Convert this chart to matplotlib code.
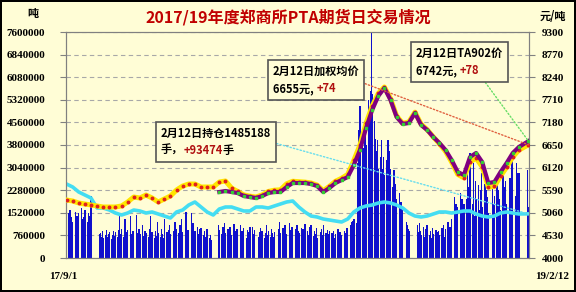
import numpy as np
import pandas as pd
import matplotlib
matplotlib.use("Agg")
import matplotlib.pyplot as plt
import matplotlib.dates as mdates
from matplotlib.ticker import FormatStrFormatter
from matplotlib.offsetbox import TextArea, HPacker, VPacker, AnnotationBbox
from matplotlib.transforms import ScaledTranslation

plt.rcParams['font.family'] = ['Noto Sans CJK SC', 'DejaVu Sans']

# ---- data -------------------------------------------------------------
# exchange holidays (weekdays without trading)
holidays = ['2017-10-02', '2017-10-03', '2017-10-04', '2017-10-05', '2017-10-06',
            '2018-01-01', '2018-02-15', '2018-02-16', '2018-02-19', '2018-02-20',
            '2018-02-21', '2018-04-05', '2018-04-06', '2018-04-30', '2018-05-01',
            '2018-06-18', '2018-09-24', '2018-10-01', '2018-10-02', '2018-10-03',
            '2018-10-04', '2018-10-05', '2018-12-31', '2019-01-01', '2019-02-04',
            '2019-02-05', '2019-02-06', '2019-02-07', '2019-02-08']

# daily volume, 10k lots, month by month
vol_2017_09 = [178, 150, 161, 139, 94, 120, 156, 110, 140, 95, 150, 168, 130, 88, 139, 160, 120, 150, 94, 140, 210]
vol_2017_10 = [80, 84, 72, 90, 67, 76, 94, 70, 82, 88, 65, 79, 92, 74, 86, 70, 95]
vol_2017_11 = [145, 80, 98, 70, 130, 88, 75, 94, 140, 82, 66, 90, 76, 145, 85, 70, 96, 80, 110, 74, 88, 92]
vol_2017_12 = [84, 70, 96, 140, 78, 88, 66, 92, 75, 120, 84, 70, 98, 80, 66, 130, 86, 74, 94, 110, 82]
vol_2018_01 = [90, 120, 78, 96, 84, 110, 72, 130, 88, 100, 156, 82, 94, 70, 150, 86, 118, 76, 92, 104, 80, 98]
vol_2018_02 = [88, 100, 76, 92, 70, 84, 96, 66, 78, 60, 110, 94, 80, 105, 90]
vol_2018_03 = [118, 84, 96, 72, 104, 88, 76, 115, 92, 70, 98, 84, 110, 74, 90, 80, 100, 66, 94, 86, 78, 104]
vol_2018_04 = [105, 82, 94, 70, 88, 100, 76, 92, 68, 84, 110, 78, 90, 72, 96, 84, 70, 88]
vol_2018_05 = [96, 120, 84, 100, 76, 112, 90, 82, 118, 94, 70, 104, 86, 98, 78, 110, 92, 84, 100, 74, 96, 88]
vol_2018_06 = [115, 90, 78, 104, 86, 112, 74, 92, 80, 100, 68, 88, 96, 76, 110, 84, 70, 94, 82, 90]
vol_2018_07 = [84, 70, 92, 66, 80, 96, 74, 88, 64, 78, 90, 72, 84, 100, 76, 110, 120, 96, 125, 130, 118, 140]
vol_2018_08 = [320, 430, 510, 430, 370, 460, 410, 380, 530, 470, 560, 800, 550, 460, 400, 360, 397, 300, 340, 397, 300, 340, 280]
vol_2018_09 = [330, 397, 280, 360, 300, 240, 296, 210, 250, 200, 220, 180, 190, 160, 140, 120, 110, 96, 90]
vol_2018_10 = [110, 86, 118, 92, 78, 104, 70, 96, 84, 112, 76, 90, 66, 100, 82, 94, 72, 88]
vol_2018_11 = [90, 76, 100, 84, 110, 70, 96, 120, 88, 104, 80, 130, 205, 150, 180, 120, 170, 220, 140, 200, 160, 180]
vol_2018_12 = [200, 286, 150, 240, 353, 180, 320, 140, 260, 200, 245, 160, 230, 286, 170, 250, 190, 230, 205, 150]
vol_2019_01 = [240, 180, 210, 250, 170, 230, 200, 160, 286, 190, 240, 260, 180, 220, 270, 200, 350, 240, 210, 320, 260, 285]
vol_2019_02 = [285, 296, 170]

# weekly open interest, 10k lots
open_interest = [248.8, 238.8, 221.9, 211.9, 201.8, 168.1, 168.1, 161.4, 151.3, 144.6,
                 151.3, 161.4, 158.1, 151.3, 154.7, 148.0, 141.2, 134.5, 154.7, 161.4,
                 178.2, 188.3, 171.5, 154.7, 144.6, 164.8, 171.5, 171.5, 164.8, 158.1,
                 158.1, 171.5, 171.5, 168.1, 174.9, 181.6, 188.3, 191.7, 171.5, 154.7,
                 141.2, 137.9, 131.1, 127.8, 124.4, 121.1, 131.1, 154.7, 168.1, 174.9,
                 178.2, 185.0, 188.3, 185.0, 178.2, 168.1, 151.3, 141.2, 137.9, 141.2,
                 148.0, 154.7, 154.7, 151.3, 154.7, 158.1, 158.1, 148.0, 141.2, 137.9,
                 141.2, 151.3, 154.7, 151.3, 148.0, 148.5188]

# weekly weighted average price, yuan/t
avg_price = [5360, 5337, 5290, 5266, 5243, 5220, 5196, 5196, 5196, 5220,
             5313, 5430, 5407, 5477, 5407, 5313, 5384, 5454, 5595, 5688,
             5735, 5735, 5665, 5665, 5665, 5782, 5806, 5640, 5560, 5480,
             5450, 5430, 5480, 5560, 5590, 5600, 5740, 5800, 5790, 5780,
             5760, 5710, 5580, 5680, 5800, 5870, 5960, 6290, 6650, 7160,
             7560, 7860, 8010, 7740, 7330, 7160, 7190, 7420, 7140, 7010,
             6840, 6680, 6500, 6250, 5960, 5880, 6250, 6340, 6140, 5660,
             5680, 5920, 6130, 6370, 6530, 6655]

# weekly TA main contract price (from late Feb 2018), yuan/t
ta_price = [5548, 5571, 5548, 5524, 5454, 5430, 5407, 5454, 5524, 5548,
            5548, 5665, 5759, 5759, 5759, 5735, 5688, 5548, 5642, 5759,
            5829, 5899, 6181, 6533, 7049, 7471, 7799, 7987, 7705, 7306,
            7142, 7166, 7400, 7119, 7002, 6837, 6697, 6533, 6298, 6017,
            5946, 6368, 6462, 6251, 5759, 5782, 6017, 6228, 6462, 6603, 6742]

# ---- dates --------------------------------------------------------------
trade_days = pd.bdate_range('2017-09-01', '2019-02-12')
trade_days = trade_days[~trade_days.isin(pd.to_datetime(holidays))]
week_days = pd.date_range('2017-09-01', '2019-02-01', freq='W-FRI').append(pd.DatetimeIndex(['2019-02-12']))

xd = mdates.date2num(trade_days.values)
xw = mdates.date2num(week_days.values)

volume = np.array(vol_2017_09 + vol_2017_10 + vol_2017_11 + vol_2017_12 + vol_2018_01 + vol_2018_02
                  + vol_2018_03 + vol_2018_04 + vol_2018_05 + vol_2018_06 + vol_2018_07 + vol_2018_08
                  + vol_2018_09 + vol_2018_10 + vol_2018_11 + vol_2018_12 + vol_2019_01 + vol_2019_02) * 1e4
oi = np.array(open_interest) * 1e4

# ---- plot ---------------------------------------------------------------
bg = '#FFFDD6'
fig = plt.figure(figsize=(5.76, 2.92), dpi=100, facecolor=bg, edgecolor='black', linewidth=1.5)
ax = fig.add_axes([66 / 576, 1 - 258 / 292, 463 / 576, 226 / 292])
ax.set_facecolor(bg)

ax.bar(xd, volume, width=1.6, color='#1010CC', linewidth=0, antialiased=False, zorder=2)
ax.plot(xw, oi, color='#44DDF2', lw=2.6, zorder=3)

ax.set_ylim(0, 7600000)
ax.set_yticks(np.arange(0, 7600001, 760000))
ax.yaxis.set_major_formatter(FormatStrFormatter('%d'))
ax.yaxis.grid(True, linestyle=(0, (4, 3)), color='#A8A8A8', lw=0.8)
ax.set_axisbelow(True)
ax.set_xlim(xd[0] - 0.6, xd[-1] + 0.6)
ax.set_xticks([xd[0], xd[-1]])
ax.set_xticklabels(['17/9/1', '19/2/12'])

ax2 = ax.twinx()
ax2.plot(xw, avg_price, color='#FFE600', lw=3.6, marker='o', ms=1.8,
         mfc='#E02020', mec='#E02020', zorder=3)
ax2.plot(xw[25:], ta_price, color='#800080', lw=3.0, marker='s', ms=2.0,
         mfc='#33CC33', mec='#33CC33', zorder=4)
ax2.set_ylim(4000, 9300)
ax2.set_yticks(np.arange(4000, 9301, 530))

num_font = dict(family=['Liberation Serif', 'DejaVu Serif'], weight='bold', size=8)
for a in (ax, ax2):
    for s in a.spines.values():
        s.set_color('#808080')
        s.set_linewidth(0.8)
    for lbl in a.get_yticklabels() + a.get_xticklabels():
        lbl.set_fontproperties(num_font)
ax.tick_params(axis='y', length=4, color='#808080', pad=11)
ax.tick_params(axis='x', length=0, pad=10)
ax2.tick_params(axis='y', length=4, color='#808080', pad=5)
xl = ax.get_xticklabels()
xl[1].set_horizontalalignment('left')
xl[1].set_transform(xl[1].get_transform() + ScaledTranslation(5 / 72, 0, fig.dpi_scale_trans))
xl[0].set_transform(xl[0].get_transform() + ScaledTranslation(-2 / 72, 0, fig.dpi_scale_trans))

# titles and unit labels
fig.text(0.5, 1 - 17 / 292, '2017/19年度郑商所PTA期货日交易情况', ha='center', va='center',
         fontsize=11.5, fontweight='bold', color='#C00000')
fig.text(33 / 576, 1 - 14 / 292, '吨', ha='center', va='center', fontsize=8, fontweight='bold')
fig.text(553 / 576, 1 - 16 / 292, '元/吨', ha='center', va='center', fontsize=8, fontweight='bold')


# annotation boxes
def make_box(line1, parts):
    tp = dict(fontsize=8, fontweight='bold')
    t1 = TextArea(line1, textprops=dict(color='black', **tp))
    row = HPacker(children=[TextArea(s, textprops=dict(color=c, **tp)) for s, c in parts],
                  align='baseline', pad=0, sep=0)
    return VPacker(children=[t1, row], align='left', pad=0, sep=3)


red = '#B01010'
notes = [
    (make_box('2月12日持仓1485188', [('手，', 'black'), ('+93474', red), ('手', 'black')]),
     (xw[-1], oi[-1]), ax.transData, (0.205, 0.58), '#66DDEE', (1, 0.5)),
    (make_box('2月12日加权均价', [('6655元, ', 'black'), ('+74', red)]),
     (xw[-1], avg_price[-1]), ax2.transData, (0.447, 0.854), '#E06040', (1, 0.45)),
    (make_box('2月12日TA902价', [('6742元, ', 'black'), ('+78', red)]),
     (xw[-1], ta_price[-1]), ax2.transData, (0.756, 0.934), '#66DD66', (0.75, 0)),
]
for box, xy, trans, pos, col, rp in notes:
    ab = AnnotationBbox(box, xy, xycoords=trans, xybox=pos, boxcoords='axes fraction',
                        box_alignment=(0, 1), pad=0.35, frameon=True,
                        bboxprops=dict(fc=bg, ec='#555555', lw=1.2),
                        arrowprops=dict(arrowstyle='-', linestyle=(0, (1, 1.5)), color=col,
                                        lw=1, relpos=rp, shrinkA=0, shrinkB=0))
    ab.set_zorder(6)
    ax2.add_artist(ab)

fig.savefig('out.png', dpi=100, facecolor=bg, edgecolor='black')
